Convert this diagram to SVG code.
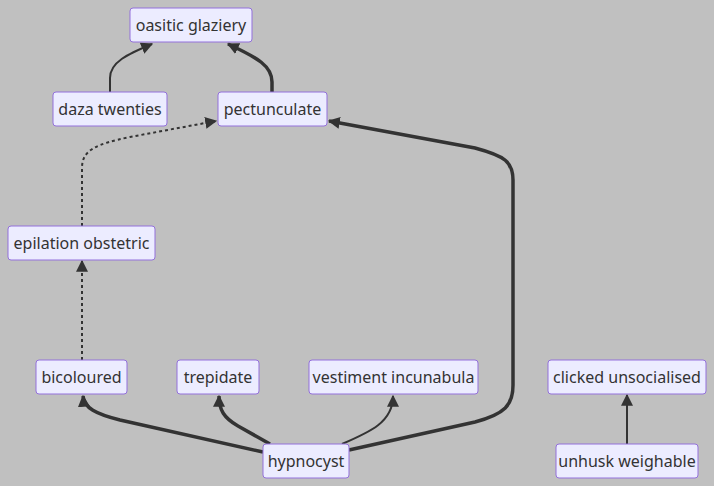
<svg xmlns="http://www.w3.org/2000/svg" width="714" height="486" viewBox="0 0 714 486">
<style>
.node rect{fill:#ECECFF;stroke:#9370DB;stroke-width:1}
.node text{font-family:"Noto Sans","DejaVu Sans",sans-serif;font-size:16px;fill:#333;text-anchor:middle;dominant-baseline:central}
.e{fill:none;stroke:#333}
.thin{stroke-width:2}
.thick{stroke-width:3.5}
.dot{stroke-width:2;stroke-dasharray:3 3}
</style>
<defs>
<marker id="ah" viewBox="0 0 10 10" refX="9" refY="5" markerWidth="12" markerHeight="12" markerUnits="userSpaceOnUse" orient="auto">
<path d="M0,0 L10,5 L0,10 z" fill="#333"/>
</marker>
</defs>
<rect width="714" height="486" fill="#c0c0c0"/>
<g id="connectors">
<path class="e thin" d="M110,92 L110,78 C110,62 128,54 152,44" marker-end="url(#ah)"/>
<path class="e thick" d="M272,92 L272,82 C272,66 258,58 228,44" marker-end="url(#ah)"/>
<path class="e dot" d="M82,226 L82,168 C82,150 96,144 130,137 L216,121" marker-end="url(#ah)"/>
<path class="e dot" d="M82,360 L82,261" marker-end="url(#ah)"/>
<path class="e thick" d="M263,452 L120,420 C96,414 84,408 83,396" marker-end="url(#ah)"/>
<path class="e thick" d="M270,444 L238,426 C224,418 219,410 219,396" marker-end="url(#ah)"/>
<path class="e thin" d="M342,444 C370,432 393,422 393,396" marker-end="url(#ah)"/>
<path class="e thick" d="M349,450 L475,422 C505,414 513,405 513,385 L513,180 C513,162 505,156 475,148 L329,121" marker-end="url(#ah)"/>
<path class="e thin" d="M627,444 L627,395" marker-end="url(#ah)"/>
</g>
<g id="n-oasitic" class="node"><rect x="130" y="8" width="122" height="34" rx="3"/><text x="191" y="25">oasitic glaziery</text></g>
<g id="n-daza" class="node"><rect x="53" y="92" width="114" height="34" rx="3"/><text x="110" y="109">daza twenties</text></g>
<g id="n-pect" class="node"><rect x="218" y="92" width="109" height="34" rx="3"/><text x="272.5" y="109">pectunculate</text></g>
<g id="n-epil" class="node"><rect x="8" y="226" width="147" height="34" rx="3"/><text x="81.5" y="243">epilation obstetric</text></g>
<g id="n-bico" class="node"><rect x="36" y="360" width="91" height="34" rx="3"/><text x="81.5" y="377">bicoloured</text></g>
<g id="n-trep" class="node"><rect x="177" y="360" width="82" height="34" rx="3"/><text x="218" y="377">trepidate</text></g>
<g id="n-vest" class="node"><rect x="309" y="360" width="169" height="34" rx="3"/><text x="393.5" y="377">vestiment incunabula</text></g>
<g id="n-hypn" class="node"><rect x="263" y="444" width="86" height="34" rx="3"/><text x="306" y="461">hypnocyst</text></g>
<g id="n-click" class="node"><rect x="548" y="360" width="158" height="34" rx="3"/><text x="627" y="377">clicked unsocialised</text></g>
<g id="n-unhusk" class="node"><rect x="556" y="444" width="142" height="34" rx="3"/><text x="627" y="461">unhusk weighable</text></g>
</svg>
